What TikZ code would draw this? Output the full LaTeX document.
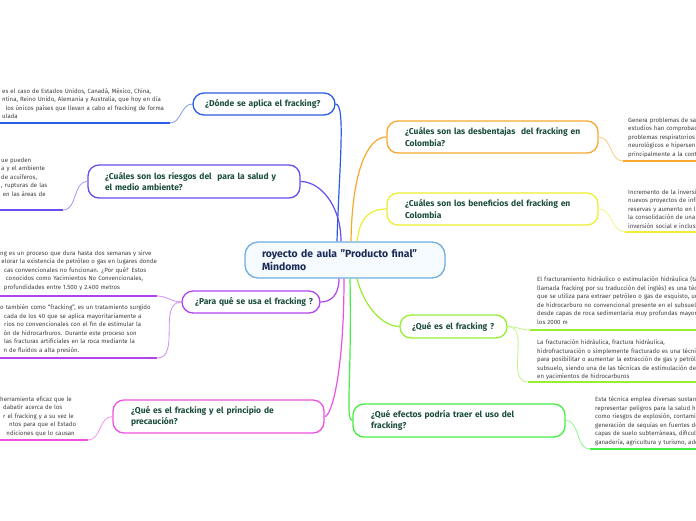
\documentclass[tikz,border=0pt]{standalone}
\usepackage{fontspec}
\setmainfont{Fira Sans}
\usetikzlibrary{positioning}

\definecolor{cBlue}{HTML}{2B5CE6}
\definecolor{cIndigo}{HTML}{6B4CF0}
\definecolor{cPurple}{HTML}{B045F0}
\definecolor{cMagenta}{HTML}{F050E0}
\definecolor{cOrange}{HTML}{F8A830}
\definecolor{cYellow}{HTML}{EEEE33}
\definecolor{cLime}{HTML}{99EE33}
\definecolor{cGreen}{HTML}{44EE44}
\definecolor{rootBorder}{HTML}{6FAEE0}
\definecolor{rootFill}{HTML}{F5FAFF}
\definecolor{titleGreen}{HTML}{1B4D3E}
\definecolor{rootText}{HTML}{1C2B55}
\definecolor{leafGray}{HTML}{404040}

\newcommand{\ind}[1]{\leavevmode\kern#1pt\relax}

\begin{document}
\begin{tikzpicture}[x=1pt,y=-1pt,
topicbox/.style={draw,rounded corners=11pt,line width=1.3pt,fill=white,align=left,
  font=\fontsize{8.5}{11.5}\selectfont\bfseries,text=titleGreen,inner ysep=0pt},
mainbox/.style={draw=rootBorder,fill=rootFill,rounded corners=13pt,line width=1.3pt,align=left,
  font=\fontsize{10.4}{13}\selectfont\bfseries,text=rootText,inner xsep=17pt,inner ysep=0pt,
  text width=166pt,minimum height=36pt},
leaftext/.style={anchor=north west,align=left,inner sep=0pt,text width=260pt,
  font=\fontsize{6.1}{8.5}\selectfont,text=leafGray,
  execute at begin node={\setlength{\parindent}{0pt}}},
branch/.style={draw=#1,line width=1.2pt},
leafline/.style={draw=#1,line width=2pt},
leafcurve/.style={draw=#1!60,line width=0.8pt}]
\useasboundingbox[fill=white] (0,0) rectangle (696,520);

% centre
\node[mainbox] (Root) at (345,260) {\mbox{royecto de aula "Producto final"}\\Mindomo};

% left topics
\node[topicbox,draw=cBlue,inner xsep=12pt,text width=118pt,minimum height=22pt] (Donde) at (264,104) {\mbox{¿Dónde se aplica el fracking?}};
\node[topicbox,draw=cIndigo,inner xsep=17pt,text width=178pt,minimum height=33pt] (Riesgos) at (194,181.5) {\mbox{¿Cuáles son los riesgos del \ para la salud y}\\el medio ambiente?};
\node[topicbox,draw=cPurple,inner xsep=13pt,text width=112pt,minimum height=22pt] (Para) at (251,302) {\mbox{¿Para qué se usa el fracking ?}};
\node[topicbox,draw=cMagenta,inner xsep=18pt,text width=175pt,minimum height=33pt] (Precau) at (218.5,416.5) {\mbox{¿Qué es el fracking y el principio de}\\precaución?};

% right topics
\node[topicbox,draw=cOrange,inner xsep=18pt,text width=175pt,minimum height=32pt] (Desv) at (492.5,137) {\mbox{¿Cuáles son las desbentajas \ del fracking en}\\Colombia?};
\node[topicbox,draw=cYellow,inner xsep=18pt,text width=175pt,minimum height=32pt] (Benef) at (492.5,209) {\mbox{¿Cuáles son los beneficios del fracking en}\\Colombia};
\node[topicbox,draw=cLime,inner xsep=12pt,text width=83pt,minimum height=23pt] (QueEs) at (453.5,326.5) {\mbox{¿Qué es el fracking ?}};
\node[topicbox,draw=cGreen,inner xsep=18pt,text width=176pt,minimum height=33pt] (Efectos) at (459,420.5) {\mbox{¿Qué efectos podría traer el uso del}\\fracking?};

% branches from the centre
\draw[branch=cBlue] ([xshift=-8pt]Root.north) .. controls (339,170) and (346,104) .. (Donde.east);
\draw[branch=cIndigo] ([xshift=-4pt]Root.north) .. controls (341,205) and (320,181.5) .. (Riesgos.east);
\draw[branch=cOrange] ([xshift=6pt]Root.north) .. controls (352,170) and (368,137) .. (Desv.west);
\draw[branch=cYellow] ([xshift=12pt]Root.north) .. controls (360,215) and (372,209) .. (Benef.west);
\draw[branch=cPurple] ([xshift=-6pt]Root.south) .. controls (339,296) and (330,302) .. (Para.east);
\draw[branch=cMagenta] ([xshift=-1pt]Root.south) .. controls (344,370) and (332,416.5) .. (Precau.east);
\draw[branch=cGreen] ([xshift=5pt]Root.south) .. controls (352,380) and (345,420.5) .. (Efectos.west);
\draw[branch=cLime] ([xshift=12pt]Root.south) .. controls (365,310) and (385,326.5) .. (QueEs.west);

% leaves, left
\node[leaftext] (LDonde) at (2,88) {es el caso de Estados Unidos, Canadá, México, China,\\ntina, Reino Unido, Alemania y Australia, que hoy en día\\\ind{3.3}los únicos países que llevan a cabo el fracking de forma\\ulada};
\coordinate (uDonde) at (0,123);
\coordinate (eDonde) at (170,123);
\draw[leafline=cBlue] (uDonde) -- (eDonde);
\draw[leafcurve=cBlue] (eDonde) to[out=0,in=180] (Donde.west);

\node[leaftext] (LRiesgos) at (1,157.5) {ue pueden\\a y el ambiente\\de acuíferos,\\, rupturas de las\\\ind{1.7}en las áreas de};
\coordinate (uRiesgos) at (0,210);
\coordinate (eRiesgos) at (63,210);
\draw[leafline=cIndigo] (uRiesgos) -- (eRiesgos);
\draw[leafcurve=cIndigo] (eRiesgos) to[out=0,in=180] (Riesgos.west);

\node[leaftext] (LParaA) at (0,250.5) {ng es un proceso que dura hasta dos semanas y sirve\\\ind{1.3}elorar la existencia de petróleo o gas en lugares donde\\\ind{4}cas convencionales no funcionan. ¿Por qué? Estos\\\ind{5.7}conocidos como Yacimientos No Convencionales,\\\ind{3.7}profundidades entre 1.500 y 2.400 metros};
\coordinate (uParaA) at (0,296);
\coordinate (eParaA) at (157,296);
\draw[leafline=cPurple] (uParaA) -- (eParaA);
\draw[leafcurve=cPurple] (eParaA) to[out=0,in=180] (Para.west);

\node[leaftext] (LParaB) at (0,304.5) {o también como “fracking”, es un tratamiento surgido\\\ind{4}cada de los 40 que se aplica mayoritariamente a\\\ind{4}rios no convencionales con el fin de estimular la\\\ind{3.3}ón de hidrocarburos. Durante este proceso son\\\ind{4}las fracturas artificiales en la roca mediante la\\\ind{3.3}n de fluidos a alta presión.};
\coordinate (uParaB) at (0,358);
\coordinate (eParaB) at (157,358);
\draw[leafline=cPurple] (uParaB) -- (eParaB);
\draw[leafcurve=cPurple] (eParaB) to[out=0,in=180] (Para.west);

\node[leaftext] (LPrecau) at (0,396.5) {herramienta eficaz que le\\\ind{3}dabatir acerca de los\\\ind{3}r el fracking y a su vez le\\\ind{9}ntos para que el Estado\\\ind{6.3}ndiciones que lo causan};
\coordinate (uPrecau) at (0,440);
\coordinate (ePrecau) at (88,440);
\draw[leafline=cMagenta] (uPrecau) -- (ePrecau);
\draw[leafcurve=cMagenta] (ePrecau) to[out=0,in=180] (Precau.west);

% leaves, right
\node[leaftext] (LDesv) at (628,117.5) {Genera problemas de sa\\estudios han comprobad\\problemas respiratorios\\neurológicos e hipersen\\principalmente a la cont};
\coordinate (uDesv) at (623,161);
\coordinate (eDesv) at (696,161);
\draw[leafline=cOrange] (uDesv) -- (eDesv);
\draw[leafcurve=cOrange] (Desv.east) to[out=0,in=180] (uDesv);

\node[leaftext] (LBenef) at (628,189.5) {Incremento de la inversi\\nuevos proyectos de infr\\reservas y aumento en l\\la consolidación de una a\\inversión social e inclusi};
\coordinate (uBenef) at (625,232);
\coordinate (eBenef) at (696,232);
\draw[leafline=cYellow] (uBenef) -- (eBenef);
\draw[leafcurve=cYellow] (Benef.east) to[out=0,in=180] (uBenef);

\node[leaftext] (LQueA) at (537,276.5) {El fracturamiento hidráulico o estimulación hidráulica (tan\\llamada fracking por su traducción del inglés) es una técn\\que se utiliza para extraer petróleo o gas de esquisto, un\\de hidrocarburo no convencional presente en el subsuelo\\desde capas de roca sedimentaria muy profundas mayor\\los 2000 m};
\coordinate (uQueA) at (530,330);
\coordinate (eQueA) at (696,330);
\draw[leafline=cLime] (uQueA) -- (eQueA);
\draw[leafcurve=cLime] (QueEs.east) to[out=0,in=180] (uQueA);

\node[leaftext] (LQueB) at (537,339.5) {La fracturación hidráulica, fractura hidráulica,\\hidrofracturación o simplemente fracturado es una técnic\\para posibilitar o aumentar la extracción de gas y petróle\\subsuelo, siendo una de las técnicas de estimulación de p\\en yacimientos de hidrocarburos};
\coordinate (uQueB) at (528,382);
\coordinate (eQueB) at (696,382);
\draw[leafline=cLime] (uQueB) -- (eQueB);
\draw[leafcurve=cLime] (QueEs.east) to[out=0,in=180] (uQueB);

\node[leaftext] (LEfectos) at (595,396.5) {Esta técnica emplea diversas sustan\\representar peligros para la salud h\\como riesgos de explosión, contamin\\generación de sequías en fuentes de\\capas de suelo subterráneas, dificult\\ganadería, agricultura y turismo, ade};
\coordinate (uEfectos) at (590,449);
\coordinate (eEfectos) at (696,449);
\draw[leafline=cGreen] (uEfectos) -- (eEfectos);
\draw[leafcurve=cGreen] (Efectos.east) to[out=0,in=180] (uEfectos);
\end{tikzpicture}
\end{document}
